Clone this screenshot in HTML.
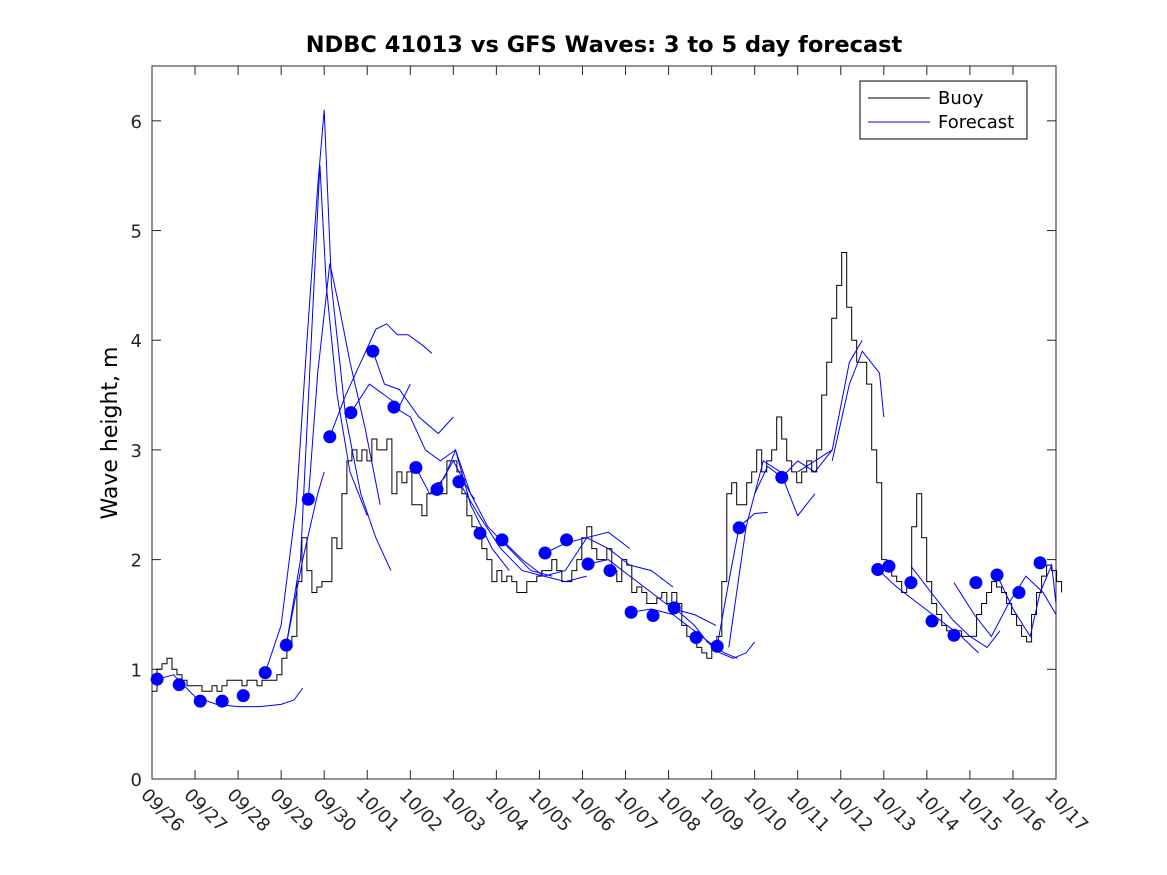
<!DOCTYPE html>
<html><head><meta charset="utf-8"><style>
body{margin:0;background:#fff;}
svg{display:block;font-family:"DejaVu Sans","Liberation Sans",sans-serif;}
</style></head><body>
<svg id="chart" width="1167" height="875" viewBox="0 0 1167 875">
<rect x="0" y="0" width="1167" height="875" fill="#fff"/>
<text x="604" y="52" text-anchor="middle" font-size="22.5" font-weight="bold">NDBC 41013 vs GFS Waves: 3 to 5 day forecast</text>
<text transform="translate(117,433) rotate(-90)" text-anchor="middle" font-size="22">Wave height, m</text>
<g id="plot"></g>
<g>
<rect x="860" y="81" width="167" height="58" fill="#fff" stroke="#000" stroke-width="1"/>
<line x1="868" y1="98" x2="930" y2="98" stroke="#000"/>
<text x="938" y="104" font-size="18">Buoy</text>
<line x1="868" y1="122" x2="930" y2="122" stroke="#00f"/>
<text x="938" y="128" font-size="18">Forecast</text>
</g>
</svg>
<script>
// data: time in days since 09/26 00Z, values in m
const dayLabels = ["09/26","09/27","09/28","09/29","09/30","10/01","10/02","10/03","10/04","10/05","10/06","10/07","10/08","10/09","10/10","10/11","10/12","10/13","10/14","10/15","10/16","10/17"];
const yTicks = [0,1,2,3,4,5,6];
const buoyStep = 0.1161;
const buoyValues = [0.8,1.0,1.05,1.1,1.0,0.95,0.9,0.85,0.85,0.85,0.8,0.8,0.85,0.8,0.85,0.9,0.9,0.9,0.85,0.9,0.9,0.85,0.9,0.9,0.9,0.95,1.1,1.2,1.3,1.8,2.2,1.9,1.7,1.75,1.8,1.8,2.2,2.1,2.6,2.9,3.0,2.9,3.0,2.9,3.1,3.0,3.0,3.1,2.6,2.8,2.7,2.8,2.5,2.5,2.4,2.6,2.6,2.7,2.6,2.9,2.9,2.8,2.6,2.4,2.3,2.2,2.1,2.0,1.8,1.9,1.8,1.85,1.8,1.7,1.7,1.8,1.8,1.85,1.9,1.9,2.0,1.9,1.8,1.8,1.9,2.0,2.2,2.3,2.1,2.0,2.0,2.1,1.9,1.8,2.0,1.95,1.7,1.75,1.7,1.6,1.6,1.65,1.7,1.6,1.7,1.6,1.4,1.3,1.3,1.2,1.15,1.1,1.2,1.3,1.8,2.6,2.7,2.5,2.5,2.7,2.8,3.0,2.8,2.9,3.0,3.3,3.1,2.9,2.8,2.7,2.8,2.9,2.8,3.0,3.5,3.8,4.2,4.5,4.8,4.3,4.0,3.8,3.8,3.6,3.0,2.7,2.0,1.9,1.85,1.8,1.7,1.8,2.3,2.6,2.2,1.8,1.6,1.5,1.4,1.35,1.35,1.35,1.3,1.3,1.3,1.5,1.6,1.7,1.8,1.75,1.7,1.6,1.5,1.4,1.3,1.25,1.5,1.7,1.85,1.95,1.9,1.8,1.7];
const dotTimes = [0.12,0.63,1.12,1.63,2.12,2.63,3.12,3.63,4.13,4.62,5.13,5.62,6.13,6.62,7.13,7.62,8.13,9.13,9.63,10.13,10.64,11.13,11.64,12.13,12.64,13.13,13.64,14.63,16.86,17.12,17.63,18.12,18.63,19.14,19.63,20.14,20.63];
const dotValues = [0.91,0.86,0.71,0.71,0.76,0.97,1.22,2.55,3.12,3.34,3.9,3.39,2.84,2.64,2.71,2.24,2.18,2.06,2.18,1.96,1.9,1.52,1.49,1.56,1.29,1.21,2.29,2.75,1.91,1.94,1.79,1.44,1.31,1.79,1.86,1.7,1.97];
const fcTimes = [
 [0.12,0.5,1.0,1.5,2.0,2.5,3.0,3.3,3.5],
 [2.63,3.0,3.35,3.6,3.85,4.0,4.17,4.5,4.85,5.2,5.55],
 [3.12,3.45,3.7,3.9,4.05,4.3,4.6,5.0,5.0],
 [3.12,3.5,3.85,4.0],
 [3.63,3.85,4.13,4.35,4.6,4.95,5.3],
 [4.13,4.5,4.85,5.2,5.45,5.7,5.95,6.3,6.5],
 [4.62,5.05,5.4,5.75,6.0],
 [5.13,5.4,5.75,6.2,6.65,7.0],
 [5.62,6.0,6.35,6.7,7.05,7.4,7.5],
 [6.13,6.45,6.8,7.05,7.4,7.9,8.3],
 [6.62,7.0,7.4,7.8,8.3,8.8,9.3],
 [7.13,7.6,8.1,8.6,9.1,9.6,10.1],
 [8.13,8.6,9.1,9.6,10.1,10.6,11.1],
 [9.13,9.6,10.1,10.6,11.1,11.6,12.1],
 [10.13,10.6,11.1,11.6,12.1,12.6,13.1],
 [11.13,11.6,12.1,12.6,13.1,13.3,13.6],
 [12.13,12.6,12.9,13.2,13.5,13.8,14.0],
 [13.13,13.4,13.64,14.0,14.3],
 [13.4,13.8,14.2,14.6,15.0,15.4],
 [14.0,14.3,14.63,15.0,15.4,15.8],
 [15.0,15.4,15.8,16.2,16.5],
 [15.8,16.2,16.5,16.9,17.0],
 [16.86,17.3,17.8,18.3,18.8,19.2],
 [17.63,18.1,18.6,19.0,19.4,19.7],
 [18.63,19.1,19.5,19.9,20.3,20.7,21.0],
 [19.63,20.0,20.4,20.63,20.9,21.0]
];
const fcValues = [
 [0.91,0.95,0.75,0.68,0.66,0.66,0.68,0.72,0.83],
 [0.97,1.4,2.5,4.0,5.4,6.1,4.5,3.3,2.6,2.2,1.9],
 [1.22,2.0,4.0,5.6,4.5,3.5,2.8,2.4,2.4],
 [1.22,2.0,2.6,2.8],
 [2.55,3.7,4.7,4.3,3.8,3.2,2.5],
 [3.12,3.5,3.8,4.1,4.15,4.05,4.05,3.95,3.88],
 [3.34,3.6,3.5,3.4,3.6],
 [3.9,3.6,3.55,3.3,3.15,3.3],
 [3.39,3.3,3.0,2.9,3.0,2.6,2.55],
 [2.84,2.6,2.75,3.0,2.5,2.1,1.9],
 [2.64,2.9,2.6,2.3,2.1,1.9,1.85],
 [2.71,2.4,2.1,1.9,1.85,1.8,1.85],
 [2.18,2.0,1.85,1.9,2.2,2.25,2.1],
 [2.06,2.15,2.2,2.1,1.95,1.9,1.75],
 [1.96,2.0,1.85,1.7,1.55,1.5,1.4],
 [1.52,1.55,1.5,1.35,1.2,1.15,1.1],
 [1.56,1.4,1.25,1.15,1.1,1.15,1.25],
 [1.21,1.8,2.3,2.42,2.43],
 [1.2,2.3,2.9,2.8,2.4,2.6],
 [2.6,2.85,2.75,2.9,2.8,3.0],
 [2.8,2.9,3.0,3.8,4.0],
 [2.9,3.6,3.9,3.7,3.3],
 [1.91,1.75,1.6,1.45,1.3,1.15],
 [1.94,1.7,1.45,1.3,1.2,1.35],
 [1.79,1.5,1.3,1.6,1.85,1.7,1.5],
 [1.86,1.55,1.3,1.7,1.95,1.6]
];
const X0=152,X1=1056,Y0=779,Y1=66,TMAX=21,VMAX=6.5;
const xs=t=>X0+(X1-X0)*t/TMAX, ys=v=>Y0-(Y0-Y1)*v/VMAX;
const NS="http://www.w3.org/2000/svg", g=document.getElementById('plot');
function mk(tag,at){const e=document.createElementNS(NS,tag);for(const k in at)e.setAttribute(k,at[k]);g.appendChild(e);return e;}
const box=mk('rect',{x:X0,y:Y1,width:X1-X0,height:Y0-Y1,fill:'none',stroke:'#262626','stroke-width':1});


dayLabels.forEach((lab,i)=>{const x=xs(i);
 const t1=mk('line',{x1:x,y1:Y0,x2:x,y2:Y0-9,stroke:'#262626'});
 
 
 const t2=mk('line',{x1:x,y1:Y1,x2:x,y2:Y1+9,stroke:'#262626'});
 
 
 const tx=mk('text',{transform:`translate(${x-12},${Y0+17}) rotate(45)`,'font-size':18,fill:'#262626'});
 tx.textContent=lab;
 
 
});
yTicks.forEach(v=>{const y=ys(v);
 const t1=mk('line',{x1:X0,y1:y,x2:X0+9,y2:y,stroke:'#262626'});
 
 
 const t2=mk('line',{x1:X1,y1:y,x2:X1-9,y2:y,stroke:'#262626'});
 
 
 const tx=mk('text',{x:X0-10,y:y+7,'text-anchor':'end','font-size':18,fill:'#262626'});
 tx.textContent=v;
 
 
});
let d='';buoyValues.forEach((v,i)=>{const x=xs(i*buoyStep),y=ys(v);d+=(i?`H${x.toFixed(1)}V${y.toFixed(1)}`:`M${x.toFixed(1)},${y.toFixed(1)}`);});
const bl=mk('path',{d:d,fill:'none',stroke:'#000','stroke-width':1});


fcTimes.forEach((ts,k)=>{const p=ts.map((t,i)=>xs(t).toFixed(1)+','+ys(fcValues[k][i]).toFixed(1)).join(' ');
 const l=mk('polyline',{points:p,fill:'none',stroke:'#00f','stroke-width':1});
 
 
});
dotTimes.forEach((t,i)=>{const c=mk('circle',{cx:xs(t),cy:ys(dotValues[i]),r:6.5,fill:'#00f'});
 
 
});
</script>
</body></html>
